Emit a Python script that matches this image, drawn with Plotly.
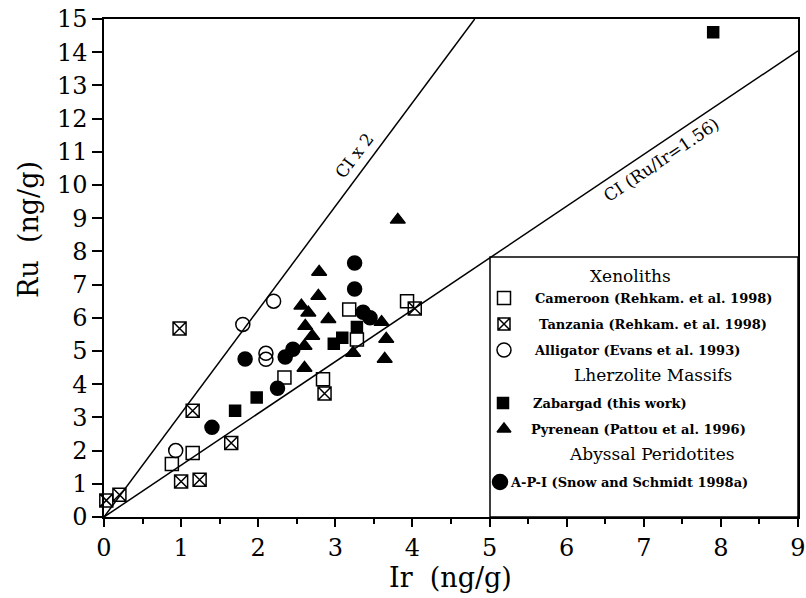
import plotly.graph_objects as go

# ---------------- data ----------------
cam_ir = [0.88, 1.15, 2.34, 2.84, 3.18, 3.28, 3.93]
cam_ru = [1.60, 1.93, 4.20, 4.15, 6.25, 5.35, 6.50]

tan_ir = [0.03, 0.20, 0.98, 1.15, 1.00, 1.24, 1.65, 2.86, 4.03]
tan_ru = [0.50, 0.67, 5.68, 3.20, 1.07, 1.12, 2.23, 3.72, 6.28]

all_ir = [0.93, 1.80, 2.10, 2.10, 2.20]
all_ru = [2.00, 5.80, 4.93, 4.75, 6.50]

zab_ir = [1.70, 1.98, 2.98, 3.09, 3.28, 7.90]
zab_ru = [3.20, 3.60, 5.22, 5.40, 5.72, 14.60]

pyr_ir = [2.79, 2.78, 2.56, 2.65, 2.91, 2.61, 2.70, 2.60, 2.60, 3.60, 3.66, 3.23, 3.64, 3.81]
pyr_ru = [7.38, 6.66, 6.36, 6.15, 5.96, 5.75, 5.45, 5.15, 4.49, 5.87, 5.36, 4.94, 4.76, 8.95]

api_ir = [1.40, 1.83, 2.25, 2.35, 2.45, 3.25, 3.25, 3.36, 3.45]
api_ru = [2.70, 4.76, 3.88, 4.82, 5.05, 7.65, 6.87, 6.17, 6.00]

ci_ratio = 1.56
x_ticks = list(range(0, 10))
y_ticks = list(range(0, 16))

legend_labels = [
    ("title", "Xenoliths"),
    ("square-open", "Cameroon (Rehkam. et al. 1998)"),
    ("square-x-open", "Tanzania (Rehkam. et al. 1998)"),
    ("circle-open", "Alligator (Evans et al. 1993)"),
    ("title", "Lherzolite Massifs"),
    ("square", "Zabargad (this work)"),
    ("triangle-up", "Pyrenean (Pattou et al. 1996)"),
    ("title", "Abyssal Peridotites"),
    ("circle", "A-P-I (Snow and Schmidt 1998a)"),
]

# ---------------- layout helpers ----------------
W, H = 806, 598
L, R, T, B = 104, 8, 19, 81
XMAX, YMAX = 9, 15
PW, PH = W - L - R, H - T - B


def px2x(px):
    return (px - L) / PW * XMAX


def py2y(py):
    return (H - B - py) / PH * YMAX


def px2p(px):
    return (px - L) / PW


def py2p(py):
    return (H - B - py) / PH


SERIF = "DejaVu Serif"
fig = go.Figure()


def note(px, py, text, size, angle=0, xanchor="center", bold=False):
    fig.add_annotation(x=px2p(px), y=py2p(py), xref="paper", yref="paper",
                       text=("<b>%s</b>" % text) if bold else text,
                       showarrow=False, textangle=angle, xanchor=xanchor,
                       yanchor="middle",
                       font=dict(family=SERIF, size=size, color="black"))


# CI lines
x_top = YMAX / (2 * ci_ratio)
fig.add_trace(go.Scatter(x=[0, x_top], y=[0, YMAX], mode="lines",
                         line=dict(color="black", width=1.5), showlegend=False))
fig.add_trace(go.Scatter(x=[0, XMAX], y=[0, XMAX * ci_ratio], mode="lines",
                         line=dict(color="black", width=1.5), showlegend=False))

mk_line = dict(color="black", width=1.5)
series = [
    (cam_ir, cam_ru, "square-open", 13),
    (tan_ir, tan_ru, "square-x-open", 13),
    (all_ir, all_ru, "circle-open", 14),
    (zab_ir, zab_ru, "square", 11),
    (pyr_ir, pyr_ru, "triangle-up", 13),
    (api_ir, api_ru, "circle", 14),
]
for xs, ys, sym, sz in series:
    fig.add_trace(go.Scatter(
        x=xs, y=ys, mode="markers", cliponaxis=False, showlegend=False,
        marker=dict(symbol=sym, size=sz, color="black", line=mk_line)))

# ---------------- manual legend ----------------
fig.add_shape(type="rect", xref="paper", yref="paper", x0=px2p(490), x1=1,
              y0=0, y1=py2p(257), line=dict(color="black", width=1.5),
              layer="below")

row_y = [276, 298, 324, 350, 375, 403, 429, 454, 482]
title_x = [630, 653, 652]
marker_x = {"square-open": 504, "square-x-open": 504, "circle-open": 504,
            "square": 503, "triangle-up": 504, "circle": 500}
text_x = {"square-open": 533, "square-x-open": 537, "circle-open": 532,
          "square": 531, "triangle-up": 529, "circle": 508}
marker_size = {"square-open": 13, "square-x-open": 12, "circle-open": 14,
               "square": 11, "triangle-up": 12, "circle": 15}
ti = 0
for (kind, label), yy in zip(legend_labels, row_y):
    if kind == "title":
        note(title_x[ti], yy, label, 17)
        ti += 1
    else:
        fig.add_trace(go.Scatter(
            x=[px2x(marker_x[kind])], y=[py2y(yy)], mode="markers",
            showlegend=False, cliponaxis=False,
            marker=dict(symbol=kind, size=marker_size[kind], color="black", line=mk_line)))
        note(text_x[kind], yy, label, 13, xanchor="left", bold=True)

# line labels
note(354, 156, "CI x 2", 17, angle=-53)
note(661, 160, "CI (Ru/Ir=1.56)", 17, angle=-34)

# axis titles
note(450, 577, "Ir  (ng/g)", 27)
note(28, 230, "Ru  (ng/g)", 27, angle=-90)

axis_common = dict(showgrid=False, zeroline=False, showline=True, linecolor="black",
                   linewidth=1.5, mirror=True, ticks="outside", tickcolor="black",
                   tickwidth=1.5, ticklabeloverflow="allow", automargin=False,
                   tickfont=dict(family=SERIF, size=24, color="black"))
fig.update_xaxes(range=[0, XMAX], tickvals=x_ticks, ticklen=8,
                 minor=dict(ticks="outside", dtick=0.5, ticklen=5, tickwidth=1.5,
                            tickcolor="black"),
                 **axis_common)
fig.update_yaxes(range=[0, YMAX], tickvals=y_ticks, ticklen=10, **axis_common)

fig.update_layout(width=W, height=H, margin=dict(l=L, r=R, t=T, b=B),
                  plot_bgcolor="white", paper_bgcolor="white", showlegend=False)

fig.write_html("out.html")
